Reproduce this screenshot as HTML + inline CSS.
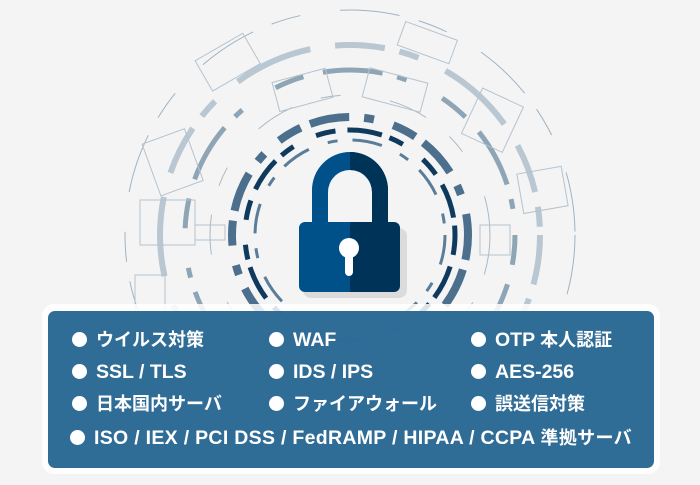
<!DOCTYPE html>
<html><head><meta charset="utf-8"><style>
html,body{margin:0;padding:0;background:#f4f4f4}
#w{position:relative;width:700px;height:485px;overflow:hidden;background:#f4f4f4;font-family:"Liberation Sans","Noto Sans CJK JP",sans-serif}
svg{position:absolute;left:0;top:0}
.panel{position:absolute;left:42px;top:304px;width:618px;height:170px;background:rgba(255,255,255,0.85);border-radius:12px}
.inner{position:absolute;left:48px;top:311px;width:606px;height:157px;background:rgba(40,103,147,0.97);border-radius:7px}
.t{position:absolute;color:#fff;font-weight:bold;font-size:19.5px;white-space:nowrap;line-height:20px}
.t:before{content:"";display:inline-block;width:15px;height:15px;border-radius:50%;background:#fff;margin-right:9px;vertical-align:-1px}
.j{font-size:18px}
</style></head><body><div id="w">
<svg width="700" height="485" viewBox="0 0 700 485">
<g fill="none" transform="translate(350,235)">
<circle r="225" stroke="#9fb3c2" stroke-width="1" stroke-dasharray="60 20 30 40"/>
<circle r="190" stroke="#b9c7d2" stroke-width="6" stroke-dasharray="50 15 20 30 80 25"/>
<circle r="165" stroke="#8ea5b6" stroke-width="5" stroke-dasharray="30 20 60 15 10 40"/>
<circle r="140" stroke="#a8b9c6" stroke-width="1" stroke-dasharray="40 30 20 50"/>
<circle r="118" stroke="#4b6f8c" stroke-width="8" stroke-dasharray="25 10 40 15 10 20"/>
<circle r="105" stroke="#0f3a5e" stroke-width="5" stroke-dasharray="20 12 35 8 15 25"/>
<circle r="95" stroke="#5a7d99" stroke-width="3" stroke-dasharray="30 20 10 15"/>
</g>
<g fill="none" stroke="#b5c3ce" stroke-width="1">
<rect x="150" y="135" width="45" height="55" transform="rotate(-20 172 162)"/>
<rect x="140" y="200" width="55" height="45"/>
<rect x="470" y="95" width="45" height="50" transform="rotate(25 492 120)"/>
<rect x="520" y="170" width="45" height="40" transform="rotate(-10 542 190)"/>
<rect x="275" y="75" width="55" height="30" transform="rotate(-15 302 90)"/>
<rect x="365" y="75" width="60" height="30" transform="rotate(15 395 90)"/>
<rect x="200" y="45" width="55" height="35" transform="rotate(-30 227 62)"/>
<rect x="400" y="30" width="55" height="25" transform="rotate(20 427 42)"/>
<rect x="195" y="225" width="30" height="15"/>
<rect x="480" y="225" width="30" height="30"/>
<rect x="135" y="275" width="30" height="40"/>
</g>
<path d="M312 222 V190 A38 38 0 0 1 388 190 V222 H372 V192 A22 22 0 0 0 328 192 V222 Z" fill="#005089"/>
<path d="M350 152 A38 38 0 0 1 388 190 V222 H372 V192 A22 22 0 0 0 350 170 Z" fill="#003358"/>
<rect x="303" y="228" width="104" height="70" rx="8" fill="#000" opacity="0.1"/>
<rect x="299" y="222" width="51" height="70" rx="6" fill="#005089"/>
<rect x="349" y="222" width="51" height="70" rx="6" fill="#003358"/>
<rect x="345" y="222" width="10" height="70" fill="#005089"/>
<rect x="350" y="222" width="5" height="70" fill="#003358"/>
<circle cx="349" cy="248" r="10" fill="#fff"/>
<rect x="345" y="250" width="8" height="26" rx="4" fill="#fff"/>
</svg>
<div class="panel"></div>
<div class="inner"></div>
<div class="t j" style="left:72px;top:330px">ウイルス対策</div>
<div class="t" style="left:269px;top:330px">WAF</div>
<div class="t" style="left:471px;top:330px">OTP <span class="j">本人認証</span></div>
<div class="t" style="left:72px;top:362px">SSL / TLS</div>
<div class="t" style="left:269px;top:362px">IDS / IPS</div>
<div class="t" style="left:471px;top:362px">AES-256</div>
<div class="t j" style="left:72px;top:394px">日本国内サーバ</div>
<div class="t j" style="left:269px;top:394px">ファイアウォール</div>
<div class="t j" style="left:471px;top:394px">誤送信対策</div>
<div class="t" style="left:70px;top:428px;letter-spacing:0.3px">ISO / IEX / PCI DSS / FedRAMP / HIPAA / CCPA <span class="j">準拠サーバ</span></div>
</div></body></html>
